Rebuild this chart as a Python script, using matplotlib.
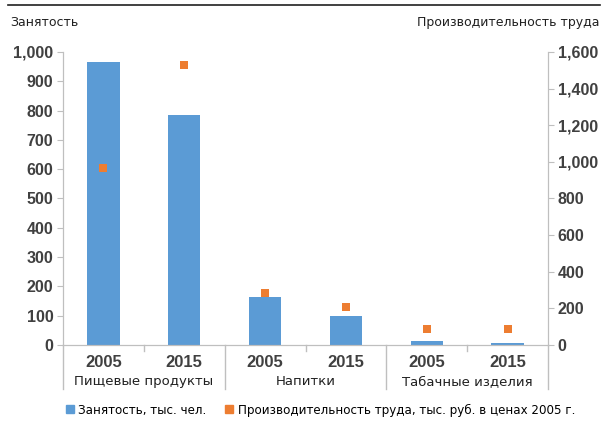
import matplotlib.pyplot as plt
import matplotlib.transforms as mtransforms
import numpy as np

# data
groups = ["Пищевые продукты", "Напитки", "Табачные изделия"]
years = ["2005", "2015"]
employment = [965, 785, 164, 100, 13, 7]          # тыс. чел.
productivity = [965, 1530, 285, 210, 85, 85]      # тыс. руб. в ценах 2005 г.
left_ticks = [0, 100, 200, 300, 400, 500, 600, 700, 800, 900, 1000]
right_ticks = [0, 200, 400, 600, 800, 1000, 1200, 1400, 1600]

blue = "#5B9BD5"
orange = "#ED7D31"
grey = "#BFBFBF"
num_font = ['Liberation Sans', 'DejaVu Sans']

plt.rcParams['font.family'] = ['DejaVu Sans']

fig = plt.figure(figsize=(6.03, 4.33), dpi=100)
ax = fig.add_axes([0.1045, 0.2032, 0.8043, 0.6768])
ax2 = ax.twinx()

n = len(employment)
x = np.arange(n)
ax.bar(x, employment, width=0.4, color=blue, zorder=2)
ax2.scatter(x, productivity, marker='s', s=40, color=orange, zorder=3, linewidths=0)

ax.set_xlim(-0.5, n - 0.5)
ax.set_ylim(0, 1000)
ax2.set_ylim(0, 1600)

ax.set_yticks(left_ticks)
ax.set_yticklabels([f"{v:,}" for v in left_ticks], fontsize=11.5, fontweight='bold',
                   family=num_font)
ax2.set_yticks(right_ticks)
ax2.set_yticklabels([f"{v:,}" for v in right_ticks], fontsize=11.5, fontweight='bold',
                    family=num_font)

for a in (ax, ax2):
    a.spines['top'].set_visible(False)
    a.spines['left'].set_color(grey)
    a.spines['right'].set_color(grey)
    a.spines['bottom'].set_color(grey)
    a.tick_params(axis='y', colors=grey, length=4, pad=3, labelcolor="#404040")
ax.tick_params(axis='x', length=0, labelbottom=False)

# year labels and group labels under the axis
trans = mtransforms.blended_transform_factory(ax.transData, ax.transAxes)
for i in range(n):
    ax.text(x[i], -0.06, years[i % 2], transform=trans, ha='center', va='center',
            fontsize=12, fontweight='bold', color="#404040", family=num_font)
for g, name in enumerate(groups):
    ax.text(2 * g + 0.5, -0.125, name, transform=trans, ha='center', va='center',
            fontsize=9.5, color="#202020")

# separators between groups and short ticks between years
for b in [-0.5, 1.5, 3.5, 5.5]:
    ax.plot([b, b], [0, -0.15], transform=trans, color=grey, lw=1, clip_on=False)
for b in [0.5, 2.5, 4.5]:
    ax.plot([b, b], [0, -0.02], transform=trans, color=grey, lw=1, clip_on=False)

# axis titles and top rule
fig.text(0.017, 0.948, "Занятость", fontsize=9, color="#202020", va='center')
fig.text(0.995, 0.948, "Производительность труда", fontsize=9, color="#202020",
         va='center', ha='right')
fig.add_artist(plt.Line2D([0.013, 0.995], [0.988, 0.988], color="#202020", lw=1.2))

# legend
handles = [plt.Line2D([], [], marker='s', ls='', color=blue, markersize=6),
           plt.Line2D([], [], marker='s', ls='', color=orange, markersize=6)]
fig.legend(handles, ["Занятость, тыс. чел.", "Производительность труда, тыс. руб. в ценах 2005 г."],
           loc='center', bbox_to_anchor=(0.53, 0.053), ncol=2, frameon=False,
           fontsize=8.6, handletextpad=0.2, columnspacing=1.4, handlelength=1)

fig.savefig("out.png", dpi=100)
